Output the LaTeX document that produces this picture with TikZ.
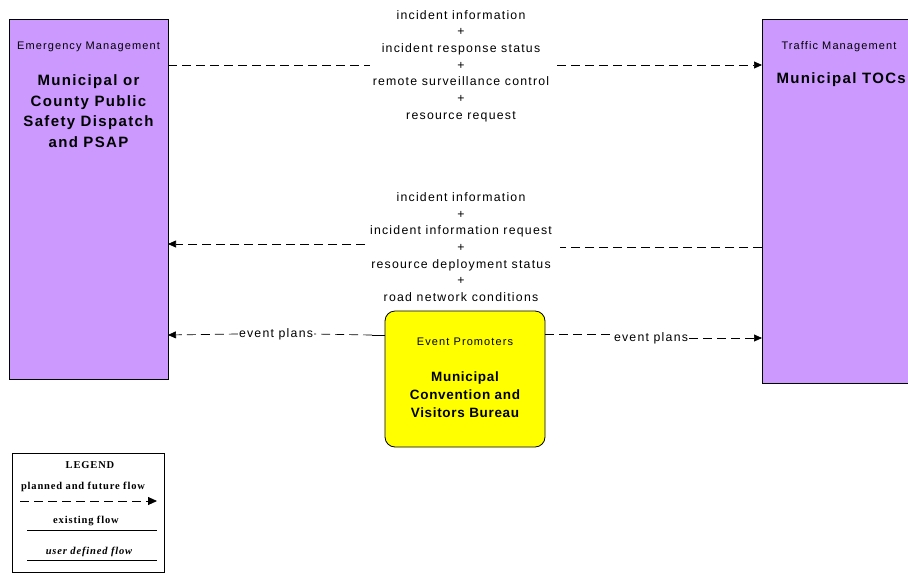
\documentclass[tikz,border=0pt]{standalone}
\usepackage{fontspec}
\setmainfont{Liberation Sans}
\newfontfamily\lblfont[LetterSpace=10]{Liberation Sans}
\newfontfamily\ttlfont[LetterSpace=9]{Liberation Sans}
\newfontfamily\epfont[LetterSpace=5]{Liberation Sans}
\newfontfamily\legfont[LetterSpace=8]{Liberation Serif}
\usetikzlibrary{arrows.meta}
\definecolor{purp}{HTML}{CC99FF}
\definecolor{yel}{HTML}{FFFF00}
\tikzset{
  ent/.style={draw=black, line width=0.8pt, fill=purp},
  flow/.style={dash pattern=on 9pt off 5pt, line width=0.7pt},
  arr/.style={-{Triangle[length=8pt,width=7pt]}},
  lbl/.style={font=\lblfont\fontsize{12.3}{16.7}\selectfont, inner sep=1pt},
  cat/.style={font=\lblfont\fontsize{11}{12}\selectfont},
  ttl/.style={font=\ttlfont\fontsize{15}{20.5}\selectfont\bfseries, align=center},
  leg/.style={font=\legfont\fontsize{10.5}{12}\selectfont\bfseries}
}
\begin{document}
\begin{tikzpicture}[x=1pt,y=-1pt]
\useasboundingbox (0,0) rectangle (908,574);
% entities
\draw[ent] (9,19) rectangle (168,379);
\node[cat] (emcat) at (88.5,47) {Emergency Management};
\node[ttl] (emttl) at (88.5,111) {Municipal or\\County Public\\Safety Dispatch\\and PSAP};
\draw[ent] (762,19) rectangle (940,383);
\node[cat, anchor=west] (tmcat) at (778,47) {Traffic Management};
\node[ttl, anchor=west] (tmttl) at (773,80) {Municipal TOCs};
\draw[draw=black, line width=0.8pt, fill=yel, rounded corners=10pt] (385,311) rectangle (545,447);
\node[cat] (epcat) at (465,342) {Event Promoters};
\node[ttl, font=\epfont\fontsize{13.5}{18}\selectfont\bfseries] (epttl) at (465,395) {Municipal\\Convention and\\Visitors Bureau};
% labels
\node[lbl, align=center] (l1) at (461,66) {incident information\\+\\incident response status\\+\\remote surveillance control\\+\\resource request};
\node[lbl, align=center] (l2) at (461,247) {incident information\\+\\incident information request\\+\\resource deployment status\\+\\road network conditions};
% flow 1
\coordinate (a1) at (168,65);
\coordinate (a2) at (370,65);
\coordinate (a3) at (557,65);
\coordinate (a4) at (762,65);
\draw[flow] (a1) -- (a2);
\draw[flow, arr] (a3) -- (a4);
% flow 2
\coordinate (b1) at (762,247);
\coordinate (b2) at (560,247);
\coordinate (b3) at (365,244);
\coordinate (b4) at (168,244);
\draw[flow] (b1) -- (b2);
\draw[flow, arr] (b3) -- (b4);
% event plans
\node[lbl] (ep1) at (276,334) {event plans};
\coordinate (c0) at (385,335);
\coordinate (c1) at (372,335);
\coordinate (c4) at (168,335);
\draw[line width=0.7pt] (c0) -- (c1);
\draw[flow] (c1) -- (ep1.east);
\draw[flow, arr] (ep1.west) -- (c4);
\node[lbl] (ep2) at (651,338) {event plans};
\coordinate (d0) at (545,334);
\coordinate (d1) at (612,334);
\coordinate (d4) at (762,338);
\draw[flow] (d0) -- (d1);
\draw[flow, arr] (ep2.east) -- (d4);
% legend
\draw[line width=0.8pt] (12,453) rectangle (164,572);
\node[leg] (lg) at (90,465) {LEGEND};
\node[leg] (lg1) at (83,487) {planned and future flow};
\coordinate (e1) at (20,501);
\coordinate (e2) at (157,501);
\draw[flow, line width=0.9pt, -{Triangle[length=9pt,width=8pt]}] (e1) -- (e2);
\node[leg] (lg2) at (86,521) {existing flow};
\coordinate (f1) at (27,530);
\coordinate (f2) at (157,530);
\draw[line width=1pt] (f1) -- (f2);
\node[leg, font=\legfont\fontsize{10.5}{12}\selectfont\bfseries\itshape] (lg3) at (89,552) {user defined flow};
\coordinate (g1) at (27,560);
\coordinate (g2) at (157,560);
\draw[line width=1pt] (g1) -- (g2);
\end{tikzpicture}
\end{document}
